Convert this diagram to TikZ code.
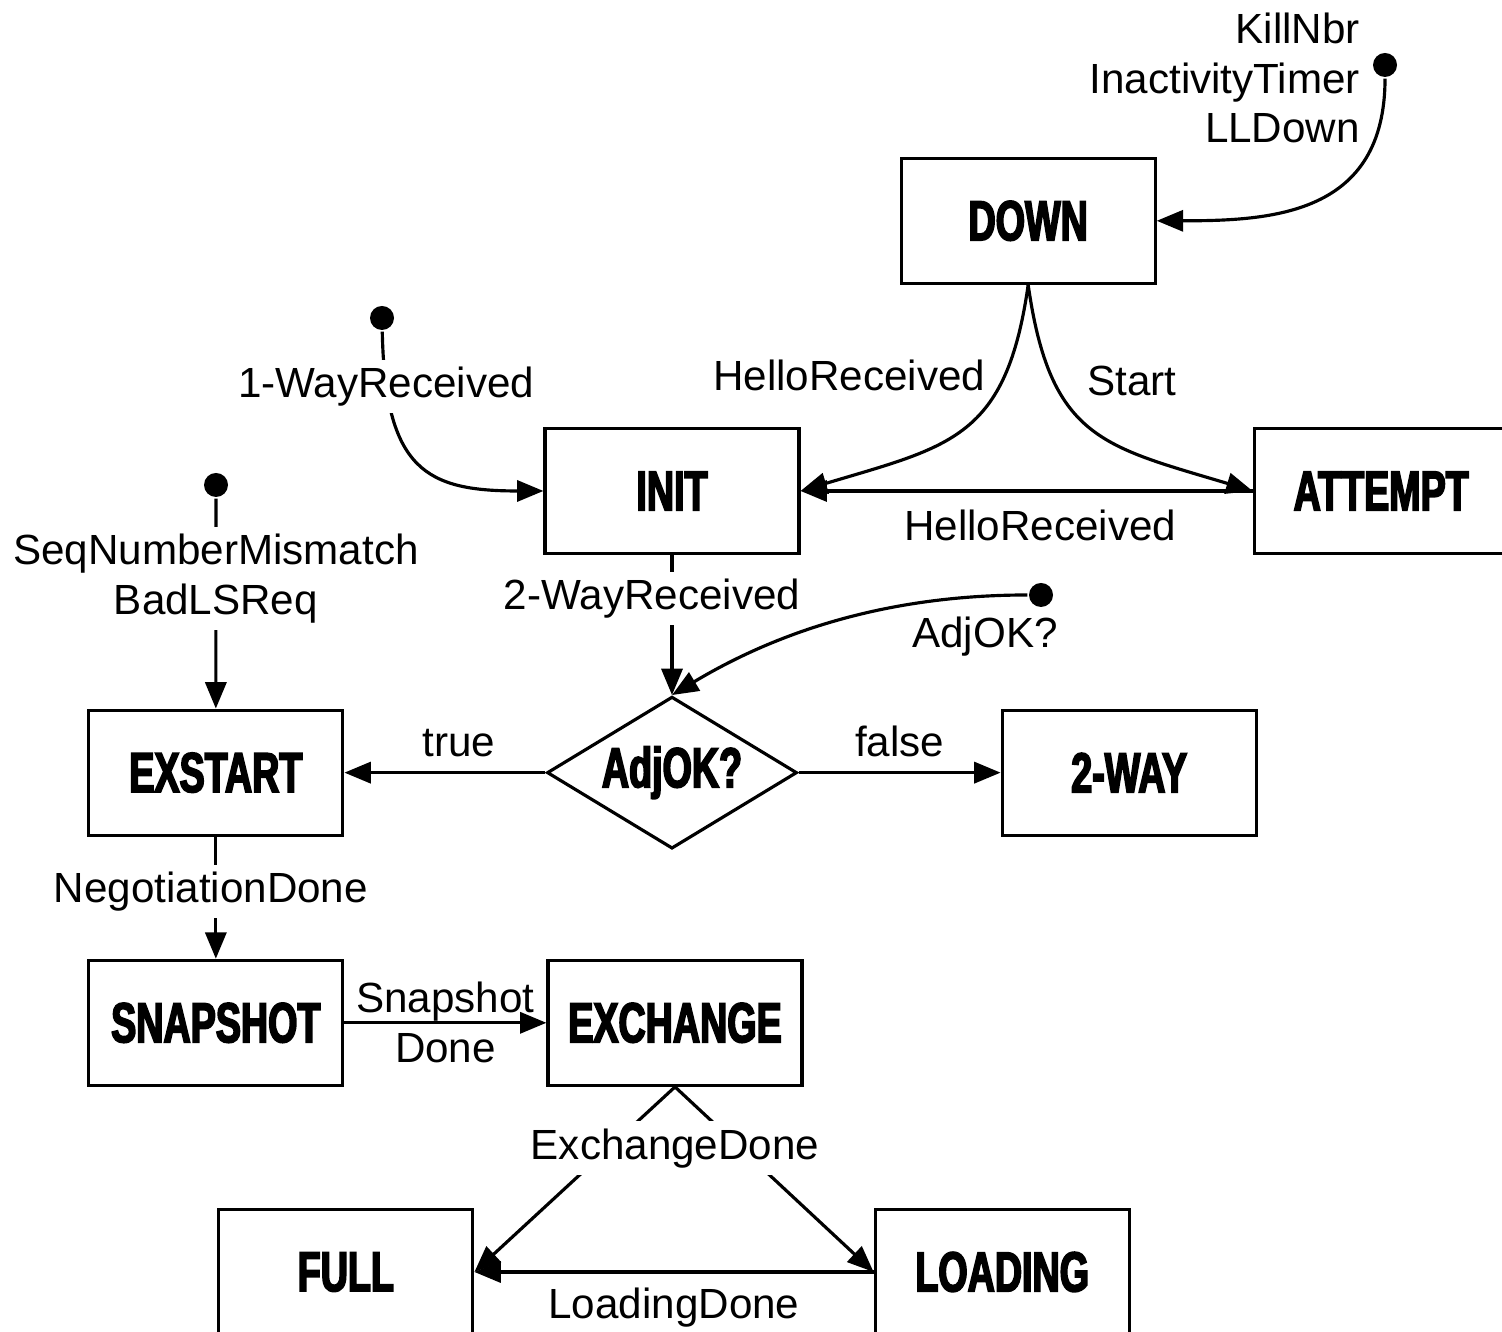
\documentclass[tikz,border=0pt]{standalone}
\usepackage{fontspec}
\setmainfont{Liberation Sans}
\newfontfamily\statefont[FakeStretch=0.67,FakeBold=3]{Liberation Sans Bold}
\usetikzlibrary{arrows.meta,positioning,shapes.geometric}

\begin{document}
\begin{tikzpicture}[
  node distance=1.40cm and 2.02cm,
  state/.style={draw, line width=0.9pt, minimum width=2.54cm, minimum height=1.25cm, font=\statefont\fontsize{16pt}{18pt}\selectfont},
  decision/.style={draw, diamond, line width=0.9pt, aspect=1.65, minimum width=2.5cm, minimum height=1.52cm, inner sep=1pt, font=\statefont\fontsize{16pt}{18pt}\selectfont},
  evlabel/.style={font=\fontsize{12pt}{14.2pt}\selectfont, inner sep=2pt},
  startdot/.style={circle, fill, inner sep=0pt, minimum size=0.24cm},
  >={Triangle[length=7.5pt,width=6pt]},
  line width=0.9pt
]
\useasboundingbox (0,0) rectangle (15.02,13.32);

% States
\node[state] (init) at (6.72,8.41) {INIT};
\node[state, above right=1.42cm and 0.99cm of init] (down) {DOWN};
\node[state, right=4.52cm of init] (attempt) {ATTEMPT};
\node[decision, below=of init] (adjok) {AdjOK?};
\node[state, left=2.01cm of adjok] (exstart) {EXSTART};
\node[state, right=of adjok] (twoway) {2-WAY};
\node[state, below=1.22cm of exstart] (snapshot) {SNAPSHOT};
\node[state, right=of snapshot] (exchange) {EXCHANGE};
\node[state, below left=1.21cm and 0.72cm of exchange] (full) {FULL};
\node[state, below right=1.21cm and 0.70cm of exchange] (loading) {LOADING};

% Entry points
\node[startdot] (killdot) at (13.85,12.67) {};
\node[startdot] (onedot) at (3.82,10.14) {};
\node[startdot] (seqdot) at (2.16,8.47) {};
\node[startdot] (adjdot) at (10.41,7.37) {};
\node[evlabel, align=right, left=0.03cm of killdot, yshift=-0.13cm] (killlbl) {KillNbr\\InactivityTimer\\LLDown};
\node[evlabel, below=0pt of adjdot, xshift=-0.56cm] (adjlbl) {AdjOK?};

% Transitions
\draw[->] (killdot) .. controls +(0,-1.5) and +(1.15,0) .. (down.east);
\draw[->] (down.south) .. controls +(-0.22,-1.54) and +(1.5,0.45) .. node[evlabel, pos=0.25, left=3pt] (lhello) {HelloReceived} (init.east);
\draw[->] (down.south) .. controls +(0.22,-1.54) and +(-1.5,0.45) .. node[evlabel, pos=0.27, right=7pt] (lstart) {Start} (attempt.west);
\draw[->] (attempt.west) -- node[evlabel, pos=0.47, below=3pt] (lhelloatt) {HelloReceived} (init.east);
\draw[->] (onedot) .. controls +(0.03,-1.52) and +(-1.17,0) .. node[evlabel, pos=0.15, fill=white] (lone) {1-WayReceived} (init.west);
\draw[->] (init.south) -- node[evlabel, pos=0.31, fill=white, xshift=-0.2cm] (ltwo) {2-WayReceived} (adjok.north);
\draw[->] (adjdot) .. controls +(-1.6,0) and +(1.0,0.6) .. (adjok.north);
\draw[->] (seqdot) -- node[evlabel, pos=0.38, fill=white, align=center] (lseq) {SeqNumberMismatch\\BadLSReq} (exstart.north);
\draw[->] (adjok.west) -- node[evlabel, pos=0.43, above=2pt] (ltrue) {true} (exstart.east);
\draw[->] (adjok.east) -- node[evlabel, above=2pt] (lfalse) {false} (twoway.west);
\draw[->] (exstart.south) -- node[evlabel, pos=0.45, fill=white, xshift=-0.05cm] (lneg) {NegotiationDone} (snapshot.north);
\draw[->] (snapshot.east) -- node[evlabel, align=center] (lsnap) {Snapshot\\Done} (exchange.west);
\draw[->] (exchange.south) -- (full.east);
\draw[->] (exchange.south) -- (loading.west);
\node[evlabel, fill=white, below=0.33cm of exchange] (lexch) {ExchangeDone};
\draw[->] (loading.west) -- node[evlabel, below=2pt] (lload) {LoadingDone} (full.east);

\end{tikzpicture}
\end{document}
